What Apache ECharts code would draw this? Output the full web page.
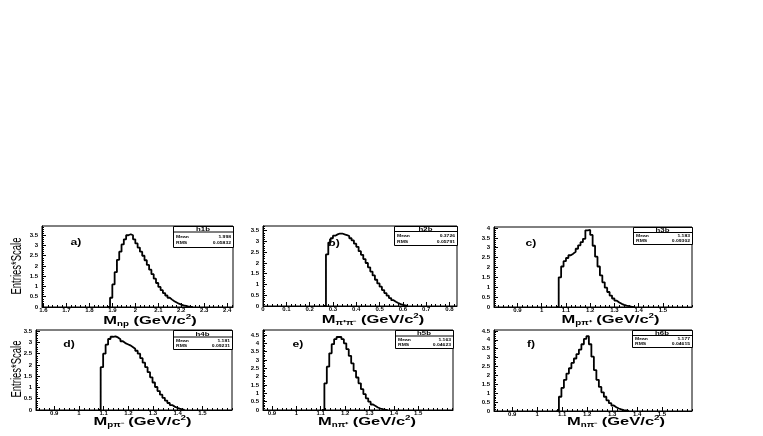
<!DOCTYPE html>
<html><head><meta charset="utf-8">
<script src="https://cdn.jsdelivr.net/npm/echarts@6/dist/echarts.min.js"></script>
<style>html,body{margin:0;padding:0;background:#fff}#c{width:763px;height:436px}</style>
</head><body><div id="c"></div>
<script>
// ---------- data ----------
// each histogram: first bin left edge, bin width, bin contents
const aStart = 1.88, aBin = 0.01;
const aValues = [0, 0.45, 1.1, 1.7, 2.3, 2.7, 3.05, 3.3, 3.5, 3.55, 3.5, 3.3, 3.1, 2.9, 2.7, 2.5, 2.28, 2.05, 1.82, 1.6, 1.38, 1.17, 0.98, 0.82, 0.68, 0.56, 0.45, 0.36, 0.28, 0.22, 0.16, 0.12, 0.08, 0.05, 0.03, 0.015, 0.005];
const aTicks = [1.6, 1.7, 1.8, 1.9, 2, 2.1, 2.2, 2.3, 2.4];

const bStart = 0.26, bBin = 0.01;
const bValues = [0, 2.4, 2.95, 3.15, 3.27, 3.33, 3.37, 3.37, 3.33, 3.3, 3.25, 3.15, 3.05, 2.9, 2.75, 2.55, 2.38, 2.18, 2.0, 1.8, 1.6, 1.42, 1.22, 1.05, 0.9, 0.74, 0.6, 0.48, 0.37, 0.27, 0.2, 0.14, 0.09, 0.05, 0.03, 0.01];
const bTicks = [0, 0.1, 0.2, 0.3, 0.4, 0.5, 0.6, 0.7, 0.8];

const cStart = 1.06, cBin = 0.01;
const cValues = [0, 1.5, 2.05, 2.32, 2.48, 2.62, 2.7, 2.8, 2.95, 3.12, 3.28, 3.45, 3.88, 3.9, 3.65, 3.1, 2.55, 2.05, 1.6, 1.25, 0.98, 0.76, 0.58, 0.43, 0.32, 0.23, 0.16, 0.11, 0.07, 0.04, 0.02, 0.01];
const cTicks = [0.9, 1, 1.1, 1.2, 1.3, 1.4, 1.5];

const dStart = 1.078, dBin = 0.01;
const dValues = [0, 1.9, 2.5, 2.9, 3.15, 3.25, 3.27, 3.22, 3.14, 3.05, 2.97, 2.92, 2.87, 2.8, 2.72, 2.63, 2.5, 2.3, 2.1, 1.9, 1.68, 1.45, 1.22, 1.02, 0.84, 0.68, 0.54, 0.42, 0.31, 0.22, 0.15, 0.1, 0.06, 0.03, 0.01];
const dTicks = [0.9, 1, 1.1, 1.2, 1.3, 1.4, 1.5];

const eStart = 1.105, eBin = 0.01;
const eValues = [0, 1.6, 2.6, 3.4, 3.95, 4.25, 4.38, 4.38, 4.25, 4.0, 3.65, 3.25, 2.8, 2.35, 1.95, 1.6, 1.25, 0.95, 0.7, 0.5, 0.33, 0.24, 0.15, 0.09, 0.05, 0.02, 0.01];
const eTicks = [0.9, 1, 1.1, 1.2, 1.3, 1.4, 1.5];

const fStart = 1.077, fBin = 0.01;
const fValues = [0, 0.8, 1.3, 1.75, 2.1, 2.4, 2.7, 2.95, 3.2, 3.45, 3.75, 4.05, 4.2, 3.75, 3.05, 2.3, 1.75, 1.35, 1.05, 0.8, 0.6, 0.44, 0.31, 0.21, 0.14, 0.09, 0.05, 0.03, 0.01];
const fTicks = [0.9, 1, 1.1, 1.2, 1.3, 1.4, 1.5];

const yTickValues = [0, 0.5, 1, 1.5, 2, 2.5, 3, 3.5, 4, 4.5];

const histNames = ['h1b', 'h2b', 'h3b', 'h4b', 'h5b', 'h6b'];
const histMeans = ['1.998', '0.3726', '1.183', '1.181', '1.163', '1.177'];
const histRMS = ['0.05832', '0.05791', '0.09302', '0.09231', '0.04623', '0.04615'];
const panelLetters = ['a)', 'b)', 'c)', 'd)', 'e)', 'f)'];
const axisSubs = ['np', 'π⁺π⁻', 'pπ⁺', 'pπ⁻', 'nπ⁺', 'nπ⁻'];
const yTitle = 'Entries*Scale';

// ---------- layout ----------
const hists = [
  {start: aStart, bin: aBin, values: aValues, ticks: aTicks},
  {start: bStart, bin: bBin, values: bValues, ticks: bTicks},
  {start: cStart, bin: cBin, values: cValues, ticks: cTicks},
  {start: dStart, bin: dBin, values: dValues, ticks: dTicks},
  {start: eStart, bin: eBin, values: eValues, ticks: eTicks},
  {start: fStart, bin: fBin, values: fValues, ticks: fTicks}
];
const L = [
  {left: 42, top: 226, width: 191, height: 81, xmin: 1.594, xmax: 2.425, ymax: 3.95,
   lab: [76, 243], title: [150, 321], box: [173, 226, 233, 247, 231.5]},
  {left: 263, top: 226, width: 194, height: 80, xmin: 0, xmax: 0.832, ymax: 3.72,
   lab: [334, 244], title: [373, 320], box: [394, 226, 457, 245, 231]},
  {left: 494, top: 227, width: 198, height: 80, xmin: 0.803, xmax: 1.62, ymax: 4.05,
   lab: [531, 244], title: [610.5, 319.5], box: [633, 227, 692, 244, 232]},
  {left: 36, top: 330, width: 196, height: 80, xmin: 0.826, xmax: 1.62, ymax: 3.55,
   lab: [69, 345], title: [142.5, 422], box: [173, 330, 232, 349, 336.5]},
  {left: 263, top: 330, width: 190, height: 80, xmin: 0.863, xmax: 1.643, ymax: 4.8,
   lab: [298, 345], title: [367, 422], box: [395, 330, 453, 348, 335.5]},
  {left: 494, top: 330, width: 198, height: 81, xmin: 0.827, xmax: 1.62, ymax: 4.55,
   lab: [531, 345], title: [616, 422], box: [632, 330, 692, 347, 335]}
];
const FONT = 'Liberation Sans, Arial, Helvetica, sans-serif';

function range(a, b, s) {
  const out = [];
  for (let v = Math.ceil(a / s - 1e-9) * s; v <= b + 1e-9; v += s) out.push(+v.toFixed(4));
  return out;
}
function histPoints(h) {
  const pts = h.values.map((v, i) => [+(h.start + i * h.bin).toFixed(4), v]);
  pts.push([+(h.start + h.values.length * h.bin).toFixed(4), 0]);
  return pts;
}

const grid = [], xAxis = [], yAxis = [], series = [], graphic = [];
L.forEach((p, i) => {
  const h = hists[i];
  grid.push({left: p.left, top: p.top, width: p.width, height: p.height, show: true,
    borderColor: '#000', borderWidth: 1, backgroundColor: 'transparent'});
  const yt = yTickValues.filter(v => v <= p.ymax + 1e-9);
  // major x
  xAxis.push({type: 'value', gridIndex: i, min: p.xmin, max: p.xmax, position: 'bottom',
    axisLine: {show: true, onZero: false, lineStyle: {color: '#000', width: 1}},
    axisTick: {show: true, inside: true, length: 4, customValues: h.ticks, lineStyle: {color: '#000'}},
    axisLabel: {show: true, customValues: h.ticks, fontSize: 6, fontWeight: 'bold', color: '#000',
      fontFamily: FONT, margin: 0, hideOverlap: false},
    splitLine: {show: false}, z: 6});
  // minor x
  xAxis.push({type: 'value', gridIndex: i, min: p.xmin, max: p.xmax, position: 'bottom',
    axisLine: {show: false},
    axisTick: {show: true, inside: true, length: 2, customValues: range(p.xmin, p.xmax, 0.02), lineStyle: {color: '#000'}},
    axisLabel: {show: false}, splitLine: {show: false}});
  // major y
  yAxis.push({type: 'value', gridIndex: i, min: 0, max: p.ymax, position: 'left',
    axisLine: {show: true, onZero: false, lineStyle: {color: '#000', width: 1}},
    axisTick: {show: true, inside: true, length: 4, customValues: yt, lineStyle: {color: '#000'}},
    axisLabel: {show: true, customValues: yt, fontSize: 6, fontWeight: 'bold', color: '#000',
      fontFamily: FONT, margin: 4, hideOverlap: false},
    splitLine: {show: false}});
  // minor y
  yAxis.push({type: 'value', gridIndex: i, min: 0, max: p.ymax, position: 'left',
    axisLine: {show: false},
    axisTick: {show: true, inside: true, length: 2, customValues: range(0, p.ymax, 0.1), lineStyle: {color: '#000'}},
    axisLabel: {show: false}, splitLine: {show: false}});
  series.push({type: 'line', xAxisIndex: 2 * i, yAxisIndex: 2 * i, step: 'end', symbol: 'none',
    data: histPoints(h), lineStyle: {color: '#000', width: 1.8}, clip: true, silent: true});

  // panel letter
  graphic.push({type: 'text', x: p.lab[0], y: p.lab[1], scaleX: 1.35, z: 5,
    style: {text: panelLetters[i], font: 'bold 9px ' + FONT, fill: '#000', align: 'center', verticalAlign: 'middle'}});
  // axis title
  graphic.push({type: 'text', x: p.title[0], y: p.title[1], scaleX: 1.5, z: 5,
    style: {text: '{m|M}{s|' + axisSubs[i] + '}{m| (GeV/c}{p|2}{m|)}', align: 'center', verticalAlign: 'middle', fill: '#000',
      rich: {
        m: {fontSize: 11, fontWeight: 'bold', fontFamily: FONT, lineHeight: 14, verticalAlign: 'middle', fill: '#000'},
        s: {fontSize: 6.5, fontWeight: 'bold', fontFamily: FONT, lineHeight: 10, verticalAlign: 'bottom', fill: '#000'},
        p: {fontSize: 6.5, fontWeight: 'bold', fontFamily: FONT, lineHeight: 9, verticalAlign: 'top', fill: '#000'}
      }}});
  // stats box
  const b = p.box;
  graphic.push({type: 'rect', shape: {x: b[0] + 0.5, y: b[1] + 0.5, width: b[2] - b[0], height: b[3] - b[1]},
    style: {fill: '#fff', stroke: '#000', lineWidth: 1}, z: 10});
  graphic.push({type: 'line', shape: {x1: b[0], y1: b[4] + 0.5, x2: b[2], y2: b[4] + 0.5},
    style: {stroke: '#000', lineWidth: 1}, z: 11});
  graphic.push({type: 'text', x: (b[0] + b[2]) / 2, y: (b[1] + b[4]) / 2 + 1, scaleX: 1.3, z: 12,
    style: {text: histNames[i], font: 'bold 6px ' + FONT, fill: '#000', align: 'center', verticalAlign: 'middle'}});
  const r1 = b[4] + (b[3] - b[4]) * 0.32, r2 = b[4] + (b[3] - b[4]) * 0.74;
  graphic.push({type: 'text', x: b[0] + 3, y: r1, scaleX: 1.2, z: 12,
    style: {text: 'Mean', font: 'bold 4.2px ' + FONT, fill: '#000', align: 'left', verticalAlign: 'middle'}});
  graphic.push({type: 'text', x: b[2] - 2, y: r1, scaleX: 1.2, z: 12,
    style: {text: histMeans[i], font: 'bold 4.2px ' + FONT, fill: '#000', align: 'right', verticalAlign: 'middle'}});
  graphic.push({type: 'text', x: b[0] + 3, y: r2, scaleX: 1.2, z: 12,
    style: {text: 'RMS', font: 'bold 4.2px ' + FONT, fill: '#000', align: 'left', verticalAlign: 'middle'}});
  graphic.push({type: 'text', x: b[2] - 2, y: r2, scaleX: 1.2, z: 12,
    style: {text: histRMS[i], font: 'bold 4.2px ' + FONT, fill: '#000', align: 'right', verticalAlign: 'middle'}});
});
// y axis titles
[[17, 266], [17, 369]].forEach(pos => {
  graphic.push({type: 'text', x: pos[0], y: pos[1], rotation: Math.PI / 2, scaleY: 1.5,
    style: {text: yTitle, font: '9.5px ' + FONT, fill: '#000', align: 'center', verticalAlign: 'middle'}});
});

const chart = echarts.init(document.getElementById('c'), null, {renderer: 'canvas'});
chart.setOption({animation: false, backgroundColor: '#fff', grid, xAxis, yAxis, series, graphic});
</script>
</body></html>
